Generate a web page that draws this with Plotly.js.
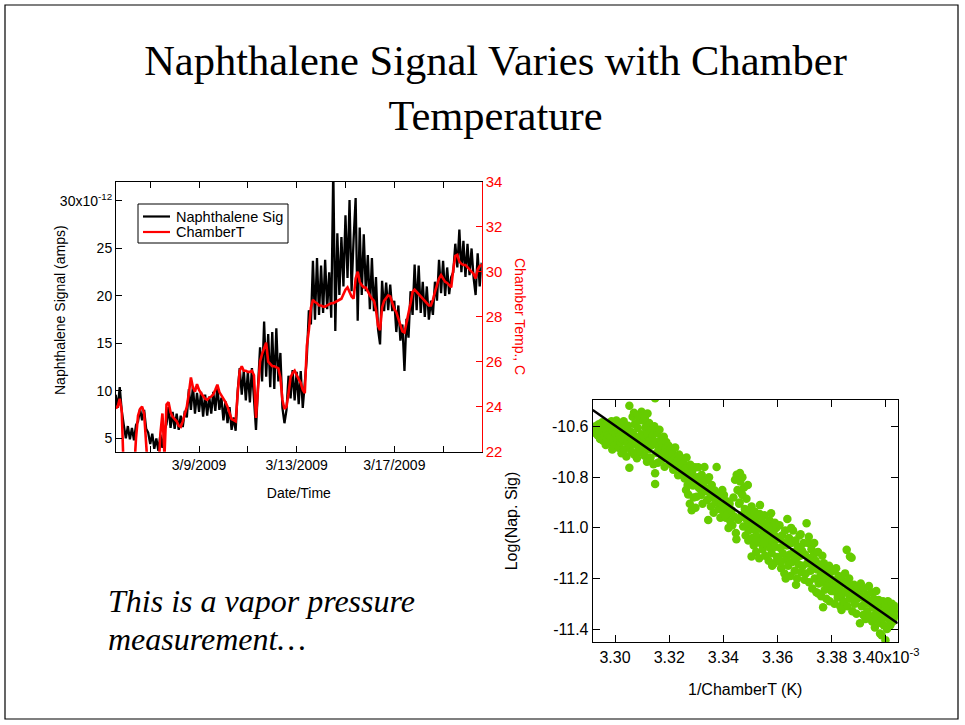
<!DOCTYPE html>
<html>
<head>
<meta charset="utf-8">
<script src="https://cdn.plot.ly/plotly-3.0.1.min.js"></script>
<style>
  html, body { margin: 0; padding: 0; background: #ffffff; }
  #slide { width: 965px; height: 725px; }
</style>
</head>
<body>
<div id="slide"></div>
<script>
// ---------- Time series: naphthalene signal and chamber temperature ----------
// Both series are logged every 2 hours starting 3/5/2009 14:00.
const sampleStart = [2009, 2, 5, 14, 0];   // year, month index, day, hour, minute (UTC)
const sampleStepHours = 2;

// Naphthalene signal, units of 1e-12 A
const naphSignal_pA = [
  9.6, 8.2, 10.4, 7.9, 6.4, 5.0, 6.3, 4.9, 6.1, 4.8,
  6.4, 6.8, 8.1, 6.9, 8.0, 6.0, 5.6, 4.4, 5.5, 3.9,
  5.0, 3.7, 5.4, 4.0, 5.9, 6.5, 8.3, 6.1, 7.8, 6.0,
  7.6, 5.9, 7.4, 6.2, 7.9, 7.2, 10.2, 8.0, 10.5, 7.6,
  9.8, 7.8, 9.9, 7.3, 9.6, 7.4, 9.4, 7.6, 9.9, 7.9,
  10.5, 8.0, 9.3, 6.9, 8.9, 6.6, 8.3, 5.9, 7.2, 5.8,
  10.0, 12.4, 9.6, 12.2, 9.0, 12.0, 8.8, 12.4, 9.2, 5.9,
  10.5, 14.6, 11.0, 17.3, 11.5, 16.0, 10.4, 16.2, 10.2, 16.6,
  11.0, 14.0, 8.2, 6.6, 8.0, 11.6, 9.2, 12.2, 9.0, 12.0,
  8.6, 12.1, 8.2, 10.5, 13.5, 18.5, 17.0, 23.7, 17.5, 24.0,
  18.0, 23.2, 18.2, 23.8, 18.6, 22.5, 17.7, 33.5, 16.3, 26.6,
  20.1, 26.2, 21.0, 28.5, 21.9, 30.1, 20.5, 26.0, 30.3, 17.4,
  27.2, 20.1, 26.5, 20.5, 24.3, 18.6, 24.0, 18.4, 22.0, 16.5,
  14.9, 21.6, 18.4, 21.4, 18.5, 21.2, 18.4, 19.5, 16.2, 19.0,
  15.3, 17.0, 12.1, 17.6, 15.6, 20.5, 18.0, 23.3, 18.5, 23.2,
  18.2, 21.5, 17.8, 21.0, 17.5, 19.5, 18.0, 21.5, 19.5, 23.8,
  20.3, 23.7, 20.0, 23.0, 20.2, 22.0, 22.5, 25.5, 23.0, 27.0,
  22.5, 25.8, 22.0, 25.5, 22.2, 25.0, 21.9, 20.1, 24.5, 21.0,
  23.5
];

// Chamber temperature, deg C
const chamberT_C = [
  23.93, 24.0, 24.35, 23.8, 21.0, 21.0, 21.0, 21.0, 21.0, 21.0,
  22.6, 23.6, 23.9, 24.0, 23.7, 22.5, 21.0, 21.0, 21.0, 21.0,
  21.0, 21.0, 22.8, 23.7, 21.8, 24.1, 24.2, 23.75, 23.55, 23.45,
  23.35, 23.15, 23.1, 23.35, 23.65, 24.0, 24.6, 25.3, 24.85, 24.67,
  25.0, 24.75, 24.6, 24.5, 24.35, 24.3, 24.4, 24.45, 24.55, 24.75,
  24.98, 24.65, 24.5, 24.4, 24.2, 24.0, 23.7, 23.45, 23.4, 23.35,
  24.6, 25.6, 25.8, 25.6, 25.6, 25.55, 25.55, 25.6, 25.4, 23.5,
  24.8, 26.0, 26.35, 26.6, 26.85, 26.0, 25.9, 25.8, 25.8, 25.75,
  25.7, 25.3, 24.3, 23.9, 24.0, 24.6, 25.3, 25.5, 25.6, 25.4,
  25.2, 25.05, 24.75, 24.6, 26.7, 27.4, 28.4, 28.75, 28.65, 28.6,
  28.5, 28.5, 28.45, 28.45, 28.5, 28.55, 28.6, 28.6, 28.65, 28.7,
  28.75, 28.8, 29.0, 29.2, 29.3, 29.1, 28.9, 28.8, 29.7, 30.0,
  29.55, 29.4, 29.3, 29.3, 29.1, 28.95, 28.8, 28.7, 28.3, 27.6,
  27.4, 28.4, 28.7, 28.85, 28.95, 28.9, 28.6, 28.35, 28.2, 27.9,
  27.6, 27.35, 27.3, 27.7, 28.1, 28.6, 29.1, 29.2, 29.1, 29.0,
  28.9, 28.8, 28.7, 28.6, 28.5, 28.5, 28.75, 29.1, 29.4, 29.7,
  29.85, 29.7, 29.55, 29.5, 29.4, 29.3, 30.1, 30.7, 30.75, 30.45,
  30.35, 30.3, 30.3, 30.2, 30.1, 30.0, 29.9, 29.7, 30.1, 30.25,
  30.3
];

// Axis ticks for the time-series panel (labelled every 4 days, minor ticks between)
const dateTickVals = ['2009-03-09', '2009-03-13', '2009-03-17'];
const dateTickText = ['3/9/2009', '3/13/2009', '3/17/2009'];
const signalTickVals = [5, 10, 15, 20, 25, 30];
const signalTickText = ['5', '10', '15', '20', '25', '30x10<sup>-12</sup>'];
const tempTickVals = [22, 24, 26, 28, 30, 32, 34];

// ---------- Clausius-Clapeyron style plot: log(signal) vs 1/T ----------
// 1/T in units of 1e-3 K^-1
const invTemp_milli = [
  3.2921, 3.2924, 3.2928, 3.2930, 3.2933, 3.2936, 3.2940, 3.2942, 3.2945, 3.2948,
  3.2951, 3.2953, 3.2956, 3.2958, 3.2961, 3.2963, 3.2966, 3.2968, 3.2971, 3.2973,
  3.2976, 3.2979, 3.2981, 3.2984, 3.2987, 3.2990, 3.2992, 3.2995, 3.2997, 3.2999,
  3.3002, 3.3005, 3.3008, 3.3010, 3.3013, 3.3016, 3.3018, 3.3021, 3.3024, 3.3026,
  3.3029, 3.3032, 3.3034, 3.3037, 3.3040, 3.3042, 3.3045, 3.3048, 3.3050, 3.3053,
  3.3053, 3.3055, 3.3058, 3.3061, 3.3063, 3.3065, 3.3068, 3.3071, 3.3073, 3.3076,
  3.3079, 3.3081, 3.3084, 3.3087, 3.3089, 3.3092, 3.3095, 3.3098, 3.3098,
  3.3101, 3.3104, 3.3107, 3.3109, 3.3112, 3.3115, 3.3118, 3.3120, 3.3123, 3.3126,
  3.3128, 3.3131, 3.3134, 3.3137, 3.3139, 3.3142, 3.3145, 3.3148, 3.3148, 3.3148,
  3.3150, 3.3153, 3.3156, 3.3158, 3.3161, 3.3164, 3.3167, 3.3169, 3.3172, 3.3175,
  3.3178, 3.3180, 3.3183, 3.3186, 3.3189, 3.3192, 3.3195, 3.3198,
  3.3201, 3.3205, 3.3208, 3.3212, 3.3215, 3.3219, 3.3222, 3.3226, 3.3229, 3.3233,
  3.3236, 3.3240, 3.3243, 3.3246, 3.3250, 3.3253, 3.3257, 3.3260, 3.3264, 3.3267,
  3.3271, 3.3274, 3.3278, 3.3281, 3.3283, 3.3285, 3.3288, 3.3292, 3.3295, 3.3298,
  3.3262, 3.3270, 3.3276, 3.3290, 3.3297, 3.3268,
  3.3301, 3.3304, 3.3307, 3.3310, 3.3313, 3.3317, 3.3320, 3.3323, 3.3326, 3.3330,
  3.3334, 3.3337, 3.3340, 3.3344, 3.3344, 3.3347, 3.3351, 3.3354, 3.3357, 3.3361,
  3.3364, 3.3368, 3.3371, 3.3375, 3.3378, 3.3382, 3.3385, 3.3389, 3.3392, 3.3396,
  3.3399,
  3.3402, 3.3405, 3.3409, 3.3412, 3.3416, 3.3419, 3.3423, 3.3426, 3.3430, 3.3433,
  3.3437, 3.3440, 3.3443, 3.3446, 3.3449, 3.3452, 3.3455, 3.3458, 3.3461, 3.3462,
  3.3465, 3.3468, 3.3470, 3.3473, 3.3476, 3.3479, 3.3482, 3.3485, 3.3488, 3.3490,
  3.3493, 3.3496, 3.3499, 3.3460, 3.3448, 3.3470, 3.3480, 3.3492,
  3.3501, 3.3504, 3.3504, 3.3507, 3.3510, 3.3512, 3.3515, 3.3518, 3.3521, 3.3523,
  3.3526, 3.3529, 3.3532, 3.3534, 3.3537, 3.3540, 3.3543, 3.3545, 3.3548, 3.3551,
  3.3554, 3.3556, 3.3559, 3.3562, 3.3565, 3.3567, 3.3570, 3.3573, 3.3576, 3.3576,
  3.3578, 3.3581, 3.3584, 3.3587, 3.3589, 3.3592, 3.3595, 3.3598, 3.3520, 3.3535,
  3.3550, 3.3565, 3.3580, 3.3590,
  3.3601, 3.3604, 3.3607, 3.3610, 3.3613, 3.3616, 3.3619, 3.3622, 3.3625, 3.3628,
  3.3631, 3.3634, 3.3636, 3.3639, 3.3642, 3.3645, 3.3648, 3.3651, 3.3654, 3.3657,
  3.3660, 3.3663, 3.3666, 3.3669, 3.3672, 3.3675, 3.3678, 3.3681, 3.3684, 3.3687,
  3.3690, 3.3693, 3.3696, 3.3699, 3.3612, 3.3630, 3.3650, 3.3668, 3.3685,
  3.3701, 3.3704, 3.3707, 3.3710, 3.3713, 3.3716, 3.3719, 3.3722, 3.3725, 3.3728,
  3.3731, 3.3734, 3.3737, 3.3740, 3.3743, 3.3746, 3.3749, 3.3752, 3.3755, 3.3758,
  3.3761, 3.3764, 3.3768, 3.3768, 3.3771, 3.3774, 3.3777, 3.3780, 3.3783, 3.3786,
  3.3789, 3.3792, 3.3795, 3.3798, 3.3715, 3.3735, 3.3750, 3.3765, 3.3790,
  3.3801, 3.3804, 3.3807, 3.3810, 3.3813, 3.3816, 3.3818, 3.3819, 3.3822, 3.3825,
  3.3828, 3.3831, 3.3834, 3.3836, 3.3837, 3.3840, 3.3843, 3.3846, 3.3849, 3.3852,
  3.3855, 3.3855, 3.3858, 3.3861, 3.3864, 3.3867, 3.3867, 3.3870, 3.3873, 3.3876,
  3.3879, 3.3882, 3.3885, 3.3888, 3.3891, 3.3894, 3.3897,
  3.3901, 3.3904, 3.3907, 3.3910, 3.3913, 3.3916, 3.3919, 3.3922, 3.3925, 3.3928,
  3.3931, 3.3934, 3.3937, 3.3940, 3.3943, 3.3946, 3.3949, 3.3952, 3.3955, 3.3958,
  3.3959, 3.3961, 3.3964, 3.3967, 3.3970, 3.3973, 3.3976, 3.3978, 3.3980, 3.3983,
  3.3984, 3.3986, 3.3989, 3.3992, 3.3995, 3.3998, 3.3998,
  3.4001, 3.4004, 3.4007, 3.4010, 3.4013, 3.4016, 3.4019, 3.4022, 3.4025, 3.4028,
  3.4031, 3.4034, 3.4037, 3.4040, 3.4040,
  3.3070, 3.3085, 3.3110, 3.3120
];

// log10 of the naphthalene signal (A)
const logNapSig = [
  -10.606, -10.615, -10.598, -10.626, -10.604, -10.634, -10.590, -10.617, -10.648, -10.600,
  -10.628, -10.582, -10.655, -10.612, -10.636, -10.596, -10.672, -10.621, -10.650, -10.588,
  -10.633, -10.662, -10.605, -10.640, -10.578, -10.690, -10.620, -10.652, -10.598, -10.671,
  -10.628, -10.575, -10.648, -10.610, -10.683, -10.637, -10.596, -10.662, -10.705, -10.622,
  -10.650, -10.578, -10.690, -10.641, -10.612, -10.718, -10.663, -10.596, -10.640, -10.517,
  -10.762, -10.678, -10.620, -10.699, -10.652, -10.560, -10.631, -10.710, -10.590, -10.668,
  -10.642, -10.725, -10.605, -10.686, -10.575, -10.655, -10.700, -10.541, -10.630,
  -10.682, -10.575, -10.640, -10.715, -10.603, -10.662, -10.738, -10.628, -10.690, -10.585,
  -10.655, -10.722, -10.610, -10.672, -10.636, -10.748, -10.598, -10.487, -10.784, -10.826,
  -10.660, -10.704, -10.625, -10.742, -10.680, -10.612, -10.695, -10.650, -10.730, -10.668,
  -10.705, -10.640, -10.758, -10.690, -10.660, -10.725, -10.700, -10.675,
  -10.712, -10.690, -10.748, -10.705, -10.770, -10.728, -10.682, -10.755, -10.735, -10.792,
  -10.710, -10.760, -10.738, -10.725, -10.785, -10.742, -10.805, -10.765, -10.722, -10.790,
  -10.768, -10.812, -10.750, -10.795, -10.930, -10.775, -10.832, -10.800, -10.760, -10.820,
  -10.850, -10.868, -10.905, -10.880, -10.920, -10.830,
  -10.877, -10.800, -10.760, -10.842, -10.815, -10.870, -10.790, -10.905, -10.835, -10.759,
  -10.855, -10.812, -10.890, -10.969, -10.845, -10.800, -10.880, -10.915, -10.830, -10.870,
  -10.940, -10.852, -10.900, -10.759, -10.880, -10.925, -10.865, -10.960, -10.905, -10.850,
  -10.935,
  -10.870, -10.920, -10.960, -10.895, -10.945, -11.000, -10.905, -10.975, -10.930, -10.990,
  -10.880, -10.955, -10.810, -11.020, -10.790, -10.850, -10.968, -10.905, -10.783, -10.817,
  -10.860, -10.950, -10.800, -10.995, -10.840, -10.925, -11.030, -10.885, -10.970, -10.830,
  -11.010, -10.940, -10.985, -10.900, -11.045, -10.870, -10.960, -11.050,
  -10.960, -11.113, -10.915, -11.040, -10.985, -11.070, -10.935, -11.010, -11.095, -10.960,
  -11.035, -10.990, -11.120, -10.945, -11.060, -11.005, -10.975, -11.085, -11.030, -10.950,
  -11.110, -11.000, -11.065, -10.985, -11.040, -11.130, -10.970, -11.080, -10.942, -11.020,
  -11.100, -11.050, -10.990, -11.140, -11.030, -11.075, -11.000, -11.115, -11.050, -10.910,
  -11.060, -11.000, -11.150, -10.980,
  -11.045, -11.120, -10.990, -11.080, -11.160, -11.030, -11.100, -11.060, -11.180, -11.010,
  -11.125, -11.070, -10.965, -11.150, -11.040, -11.105, -11.190, -11.060, -11.135, -11.010,
  -11.095, -11.170, -11.050, -11.120, -11.200, -11.075, -11.145, -11.030, -11.110, -11.175,
  -11.090, -11.150, -11.060, -11.205, -11.135, -11.200, -11.000, -11.225, -11.025,
  -11.105, -11.180, -10.982, -11.140, -11.060, -11.215, -11.120, -11.170, -11.085, -11.240,
  -11.150, -11.105, -11.200, -11.130, -11.255, -11.165, -11.095, -11.220, -11.145, -11.190,
  -11.270, -11.160, -11.314, -11.215, -11.140, -11.245, -11.185, -11.280, -11.160, -11.230,
  -11.200, -11.290, -11.175, -11.250, -11.035, -11.060, -11.260, -11.110, -11.150,
  -11.205, -11.250, -11.170, -11.300, -11.225, -11.160, -11.256, -11.210, -11.275, -11.190,
  -11.240, -11.310, -11.200, -11.325, -11.265, -11.220, -11.290, -11.292, -11.180, -11.250,
  -11.087, -11.215, -11.310, -11.260, -11.200, -11.113, -11.280, -11.240, -11.118, -11.330,
  -11.265, -11.225, -11.300, -11.250, -11.340, -11.280, -11.235,
  -11.260, -11.377, -11.220, -11.310, -11.275, -11.345, -11.240, -11.300, -11.360, -11.265,
  -11.330, -11.285, -11.230, -11.350, -11.300, -11.255, -11.370, -11.315, -11.280, -11.345,
  -11.394, -11.300, -11.250, -11.360, -11.320, -11.285, -11.375, -11.418, -11.335, -11.300,
  -11.425, -11.360, -11.290, -11.385, -11.340, -11.444, -11.310,
  -11.330, -11.400, -11.290, -11.360, -11.315, -11.385, -11.340, -11.300, -11.370, -11.330,
  -11.355, -11.310, -11.340, -11.318, -11.345,
  -10.545, -10.555, -10.565, -10.548
];

// Linear fit: log(sig) = fitIntercept + fitSlope * (1/T in 1e-3 K^-1)
const fitSlope = -7.494;
const fitIntercept = 14.1345;

const invTTickVals = [3.30, 3.32, 3.34, 3.36, 3.38, 3.40];
const invTTickText = ['3.30', '3.32', '3.34', '3.36', '3.38', '3.40x10<sup>-3</sup>'];
const logTickVals = [-11.4, -11.2, -11.0, -10.8, -10.6];
const logTickText = ['-11.4', '-11.2', '-11.0', '-10.8', '-10.6'];

// Legend entries for the time-series panel
const legendNames = ['Naphthalene Sig', 'ChamberT'];
const legendColors = ['#000000', '#ff0000'];

// ---------- Build ----------
const W = 965, H = 725;
const px = x => x / W;          // pixel column -> paper x
const py = y => 1 - y / H;      // pixel row -> paper y

function stamp(ms) {
  const d = new Date(ms);
  const p = n => String(n).padStart(2, '0');
  return d.getUTCFullYear() + '-' + p(d.getUTCMonth() + 1) + '-' + p(d.getUTCDate()) +
         ' ' + p(d.getUTCHours()) + ':' + p(d.getUTCMinutes());
}
const t0 = Date.UTC(...sampleStart);
const sampleTimes = naphSignal_pA.map((_, i) => stamp(t0 + i * sampleStepHours * 3600e3));

const sans = 'Liberation Sans, Arial, sans-serif';
const serif = 'Liberation Serif, Times New Roman, serif';

const invTRange = [3.29177, 3.40432];
const fitX = invTRange.slice();
const fitY = fitX.map(x => fitIntercept + fitSlope * x);

const traces = [
  {
    type: 'scatter', mode: 'lines', name: legendNames[0],
    x: sampleTimes, y: naphSignal_pA, xaxis: 'x', yaxis: 'y',
    line: { color: legendColors[0], width: 2.3 }
  },
  {
    type: 'scatter', mode: 'lines', name: legendNames[1],
    x: sampleTimes, y: chamberT_C, xaxis: 'x', yaxis: 'y2',
    line: { color: legendColors[1], width: 2.6 }
  },
  {
    type: 'scatter', mode: 'markers', name: 'Log(Nap. Sig)',
    x: invTemp_milli, y: logNapSig, xaxis: 'x2', yaxis: 'y3',
    marker: { color: '#66cc00', size: 8.5, line: { width: 0 } }
  },
  {
    type: 'scatter', mode: 'lines', name: 'fit',
    x: fitX, y: fitY, xaxis: 'x2', yaxis: 'y3',
    line: { color: '#000000', width: 2.5 }
  }
];

const axisCommon = {
  showline: true, linecolor: '#000000', linewidth: 1,
  ticks: 'inside', ticklen: 7, tickwidth: 1, tickcolor: '#000000',
  showgrid: false, zeroline: false, fixedrange: true
};

// Boxed legend drawn at the upper left of the time-series panel
const legendBox = { x0: 138, x1: 288, y0: 204, y1: 243 };
const legendRows = [216.5, 232];
const legendShapes = [
  {
    type: 'rect', xref: 'paper', yref: 'paper',
    x0: px(legendBox.x0), x1: px(legendBox.x1), y0: py(legendBox.y1), y1: py(legendBox.y0),
    line: { color: '#000000', width: 1 }, fillcolor: '#ffffff'
  }
].concat(legendNames.map((n, k) => ({
  type: 'line', xref: 'paper', yref: 'paper',
  x0: px(143), x1: px(170), y0: py(legendRows[k]), y1: py(legendRows[k]),
  line: { color: legendColors[k], width: 2.2 }
})));
const legendLabels = legendNames.map((n, k) => ({
  text: n, xref: 'paper', yref: 'paper', x: px(174), y: py(legendRows[k]),
  xanchor: 'left', yanchor: 'middle', showarrow: false,
  font: { family: sans, size: 14.5, color: '#000000' }
}));

const layout = {
  width: W, height: H,
  margin: { l: 0, r: 0, t: 0, b: 0 },
  paper_bgcolor: '#ffffff', plot_bgcolor: '#ffffff',
  font: { family: sans, size: 14, color: '#000000' },
  title: {
    text: 'Naphthalene Signal Varies with Chamber<br>Temperature',
    font: { family: serif, size: 42.5, color: '#000000' },
    x: px(495.5), xanchor: 'center', xref: 'paper',
    y: py(75), yanchor: 'top', yref: 'container'
  },
  showlegend: false,
  xaxis: Object.assign({}, axisCommon, {
    domain: [px(116), px(481.7)], anchor: 'y', type: 'date',
    range: ['2009-03-05 14:20', '2009-03-20 13:58'],
    mirror: 'ticks', ticklen: 6,
    tickvals: dateTickVals, ticktext: dateTickText,
    minor: { ticks: 'inside', ticklen: 6, tickcolor: '#000000', tick0: '2009-03-07', dtick: 2 * 86400000, showgrid: false },
    tickfont: { family: sans, size: 14 },
    title: { text: 'Date/Time', font: { family: sans, size: 14 }, standoff: 16 }
  }),
  yaxis: Object.assign({}, axisCommon, {
    domain: [py(451.7), py(181.7)], anchor: 'x',
    range: [3.6, 32.03], ticklen: 6,
    tickvals: signalTickVals, ticktext: signalTickText,
    tickfont: { family: sans, size: 14 }
  }),
  yaxis2: Object.assign({}, axisCommon, {
    overlaying: 'y', side: 'right', anchor: 'x',
    range: [22, 34], ticklen: 6,
    linecolor: '#ff0000', tickcolor: '#ff0000',
    tickvals: tempTickVals,
    tickfont: { family: sans, size: 15, color: '#ff0000' }
  }),
  xaxis2: Object.assign({}, axisCommon, {
    domain: [px(592.7), px(897.7)], anchor: 'y3',
    range: invTRange, mirror: 'ticks',
    tickvals: invTTickVals, ticktext: invTTickText,
    tickfont: { family: sans, size: 16 },
    title: { text: '1/ChamberT (K)', font: { family: sans, size: 16 }, standoff: 19 }
  }),
  yaxis3: Object.assign({}, axisCommon, {
    domain: [py(642.3), py(399.7)], anchor: 'x2',
    range: [-11.4526, -10.493], mirror: 'ticks',
    tickvals: logTickVals, ticktext: logTickText,
    tickfont: { family: sans, size: 16 },
    title: { text: 'Log(Nap. Sig)', font: { family: sans, size: 16 }, standoff: 30 }
  }),
  annotations: [
    {
      text: 'Naphthalene Signal (amps)', textangle: -90,
      xref: 'paper', yref: 'paper', x: px(60), y: py(310),
      xanchor: 'center', yanchor: 'middle', showarrow: false,
      font: { family: sans, size: 14, color: '#000000' }
    },
    {
      text: 'Chamber Temp., C', textangle: 90,
      xref: 'paper', yref: 'paper', x: px(520), y: py(316),
      xanchor: 'center', yanchor: 'middle', showarrow: false,
      font: { family: sans, size: 14, color: '#ff0000' }
    },
    {
      text: '<i>This is a vapor pressure</i>',
      xref: 'paper', yref: 'paper', x: px(106), y: py(601),
      xanchor: 'left', yanchor: 'middle', align: 'left', showarrow: false,
      font: { family: serif, size: 32, color: '#000000' }
    },
    {
      text: '<i>measurement…</i>',
      xref: 'paper', yref: 'paper', x: px(106), y: py(639),
      xanchor: 'left', yanchor: 'middle', align: 'left', showarrow: false,
      font: { family: serif, size: 32, color: '#000000' }
    }
  ].concat(legendLabels),
  shapes: [
    {
      type: 'rect', xref: 'paper', yref: 'paper',
      x0: px(5), x1: px(958), y0: py(719), y1: py(5),
      line: { color: '#000000', width: 1.2 }, fillcolor: 'rgba(0,0,0,0)'
    }
  ].concat(legendShapes)
};

Plotly.newPlot('slide', traces, layout, { staticPlot: true, displayModeBar: false });
</script>
</body>
</html>
